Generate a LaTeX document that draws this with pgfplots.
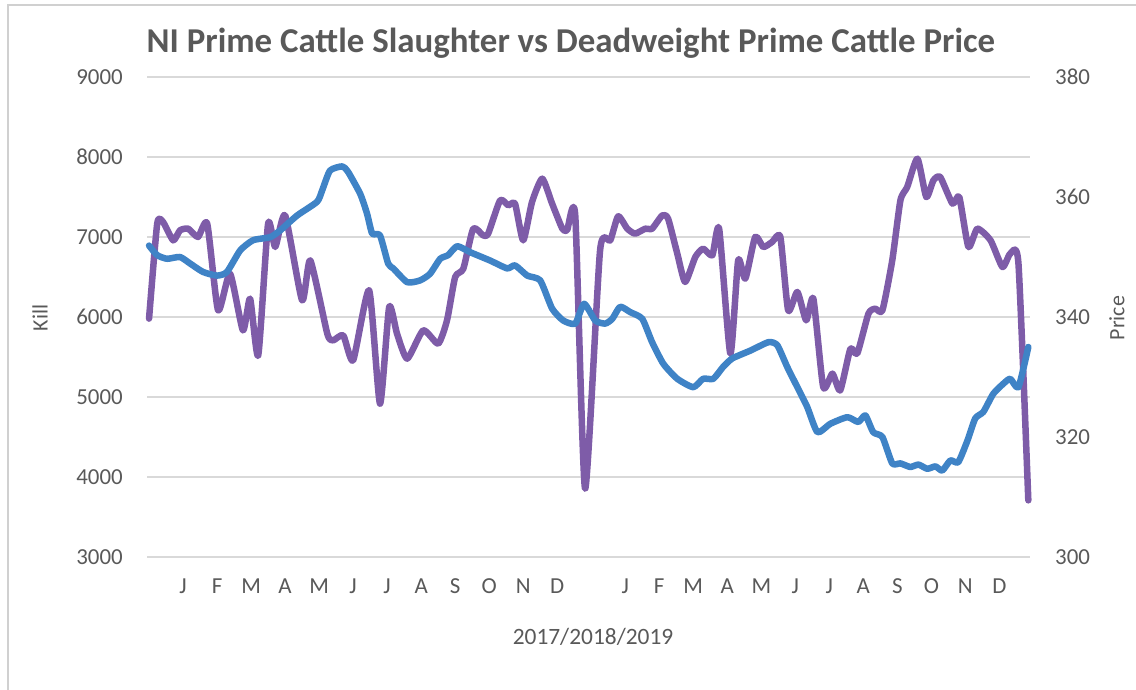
\documentclass[border=0pt]{standalone}
\usepackage{pgfplots}
\pgfplotsset{compat=1.18}
\usepackage{fontspec}
\setmainfont{Carlito}
\definecolor{killc}{HTML}{7E5CA8}
\definecolor{pricec}{HTML}{3F83C6}
\definecolor{txt}{HTML}{595959}
\definecolor{gridc}{HTML}{D9D9D9}
\definecolor{framec}{HTML}{D0D0D0}

\pgfplotstableread{
x y
0.00 5980
0.24 7167
0.41 7188
0.71 6958
0.91 7083
1.15 7104
1.44 7000
1.71 7167
2.03 6083
2.38 6542
2.76 5833
2.97 6229
3.21 5521
3.50 7167
3.71 6875
4.00 7271
4.50 6208
4.74 6708
5.24 5792
5.41 5708
5.71 5771
6.00 5458
6.47 6333
6.79 4917
7.06 6125
7.29 5792
7.59 5479
8.06 5833
8.50 5667
8.76 5958
9.00 6500
9.24 6604
9.53 7104
9.82 7021
9.97 7042
10.32 7458
10.56 7396
10.76 7417
11.00 6958
11.26 7438
11.56 7729
11.85 7417
12.15 7104
12.29 7083
12.53 7271
12.82 3854
13.26 6833
13.56 6958
13.79 7258
14.06 7104
14.29 7042
14.59 7104
14.79 7104
15.09 7271
15.26 7229
15.53 6792
15.76 6438
16.06 6750
16.29 6854
16.56 6771
16.76 7104
17.09 5542
17.32 6708
17.53 6479
17.82 7000
18.06 6875
18.32 6938
18.56 7000
18.79 6083
19.06 6313
19.32 5958
19.53 6229
19.82 5125
20.09 5292
20.32 5083
20.62 5604
20.82 5542
21.15 6042
21.35 6104
21.56 6083
21.85 6708
22.09 7458
22.29 7625
22.59 7979
22.85 7500
23.06 7708
23.26 7750
23.62 7417
23.82 7500
24.09 6875
24.35 7104
24.74 6958
25.09 6625
25.32 6792
25.56 6667
25.85 3708
}\killtable

\pgfplotstableread{
x y
0.00 351.9
0.24 350.3
0.53 349.7
0.91 350.0
1.21 348.9
1.59 347.5
2.00 346.9
2.29 347.5
2.68 351.1
3.06 352.8
3.56 353.3
3.85 354.4
4.35 356.9
4.94 359.2
5.09 361.1
5.32 364.4
5.68 365.1
5.85 364.2
6.21 360.5
6.41 357.2
6.56 353.9
6.79 353.6
7.03 348.9
7.18 348.1
7.59 345.8
7.97 346.1
8.26 347.2
8.56 349.7
8.79 350.3
9.06 351.8
9.44 350.8
10.03 349.4
10.53 348.1
10.76 348.6
11.12 346.9
11.50 346.1
11.85 341.4
12.18 339.4
12.53 338.9
12.79 342.2
13.12 339.4
13.41 338.9
13.62 339.7
13.85 341.7
14.15 340.8
14.50 339.7
14.79 335.8
15.12 332.2
15.53 329.7
16.00 328.3
16.29 329.7
16.59 329.7
16.88 331.7
17.15 333.1
17.68 334.4
18.21 335.8
18.47 335.3
18.76 331.7
19.06 328.3
19.35 325.0
19.65 320.8
20.03 322.2
20.53 323.3
20.85 322.5
21.06 323.6
21.29 320.8
21.56 320.0
21.85 315.6
22.09 315.6
22.38 315.0
22.62 315.4
22.88 314.7
23.12 315.1
23.32 314.4
23.56 316.1
23.79 315.8
24.06 319.4
24.29 323.1
24.53 324.2
24.82 327.2
25.12 328.9
25.32 329.7
25.56 328.3
25.85 335.0
}\pricetable

\begin{document}
\begin{tikzpicture}[x=1bp,y=1bp]
\path[use as bounding box] (0,0) rectangle (1136,690);
\draw[framec, line width=1.2bp] (8,-5) -- (8,685) -- (1145,685);
\node[font=\fontsize{35}{40}\selectfont\bfseries, text=txt] at (571,647) {NI Prime Cattle Slaughter vs Deadweight Prime Cattle Price};
\node[rotate=90, font=\fontsize{22}{26}\selectfont, text=txt] at (40,372) {Kill};
\node[rotate=90, font=\fontsize{22}{26}\selectfont, text=txt] at (1117,372) {Price};
\node[font=\fontsize{23.5}{28}\selectfont, text=txt] at (593,53) {2017/2018/2019};

\begin{axis}[
  at={(147bp,133bp)}, anchor=south west, scale only axis,
  width=883bp, height=480bp,
  xmin=-0.06, xmax=25.9, ymin=3000, ymax=9000,
  ytick={3000,4000,...,9000},
  xtick={1,2,3,4,5,6,7,8,9,10,11,12,14,15,16,17,18,19,20,21,22,23,24,25},
  xticklabels={J,F,M,A,M,J,J,A,S,O,N,D,J,F,M,A,M,J,J,A,S,O,N,D},
  ymajorgrids, grid style={gridc, line width=1.4bp},
  axis line style={draw=none}, major tick length=0pt,
  /pgf/number format/assume math mode=true,
  /pgf/number format/1000 sep={},
  tick label style={font=\fontsize{23}{27}\selectfont, text=txt, inner sep=0pt},
  yticklabel style={anchor=east, xshift=-24bp},
  xticklabel style={anchor=base, yshift=-37bp},
  clip=false,
]
\addplot[killc, line width=6.5bp, line join=round, line cap=round, smooth, tension=0.35] table {\killtable};
\end{axis}

\begin{axis}[
  at={(147bp,133bp)}, anchor=south west, scale only axis,
  width=883bp, height=480bp,
  xmin=-0.06, xmax=25.9, ymin=300, ymax=380,
  ytick={300,320,...,380},
  axis x line=none, axis y line*=right,
  axis line style={draw=none}, major tick length=0pt,
  /pgf/number format/assume math mode=true,
  tick label style={font=\fontsize{23}{27}\selectfont, text=txt, inner sep=0pt},
  yticklabel style={anchor=west, xshift=25bp},
  clip=false,
]
\addplot[pricec, line width=6.5bp, line join=round, line cap=round, smooth, tension=0.35] table {\pricetable};
\end{axis}
\end{tikzpicture}
\end{document}
